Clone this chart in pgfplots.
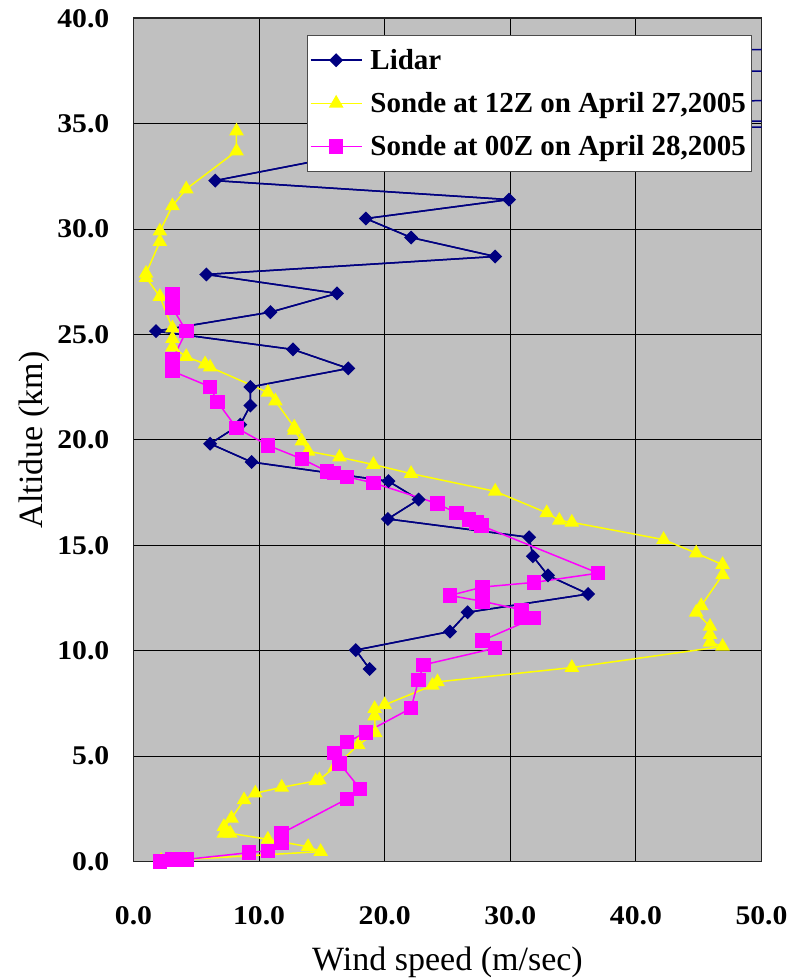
\documentclass[border=0pt]{standalone}
\usepackage{pgfplots}
\pgfplotsset{compat=1.18}
\usepackage{fontspec}
\setmainfont{Liberation Serif}
\newfontfamily\tickfont{Liberation Serif}[FakeStretch=1.1]
\definecolor{silverbg}{RGB}{192,192,192}
\definecolor{navy}{RGB}{0,0,128}
\definecolor{yel}{RGB}{255,255,0}
\definecolor{mag}{RGB}{255,0,255}
\begin{document}
\begin{tikzpicture}
\useasboundingbox (-133.5pt,-118.5pt) rectangle (658.5pt,861.5pt);
\begin{axis}[
  at={(0pt,0pt)}, anchor=south west,
  scale only axis, width=628pt, height=843.2pt,
  xmin=0, xmax=50, ymin=0, ymax=40,
  xtick={0,10,20,30,40,50}, ytick={0,5,10,15,20,25,30,35,40},
  xticklabels={0.0,10.0,20.0,30.0,40.0,50.0},
  yticklabels={0.0,5.0,10.0,15.0,20.0,25.0,30.0,35.0,40.0},
  major tick length=0pt,
  grid=major, grid style={black, line width=0.9pt},
  axis line style={black!85, line width=1.8pt},
  axis background/.style={fill=silverbg},
  tick label style={font=\tickfont\bfseries\fontsize{27}{27}\selectfont, inner sep=0pt},
  xticklabel style={anchor=base, yshift=-63pt},
  yticklabel style={anchor=east, xshift=-24pt},
  every axis x label/.style={at={(axis description cs:0.5,-0.1287)}, anchor=base, inner sep=0pt},
  every axis y label/.style={at={(axis description cs:-0.1446,0.5)}, rotate=90, anchor=base, inner sep=0pt},
  xlabel={\fontsize{34}{34}\selectfont Wind speed (m/sec)},
  ylabel={\fontsize{34}{34}\selectfont Altidue (km)},
  legend style={at={(0.2763,0.9802)}, anchor=north west, draw=black!70, line width=0.8pt, fill=white,
    font=\bfseries\fontsize{29}{29}\selectfont, inner xsep=2.5pt, inner ysep=11pt, row sep=15.5pt,
    nodes={inner sep=3pt, anchor=west},
    /tikz/every odd column/.append style={column sep=5pt}},
  legend cell align=left,
  legend image code/.code={\draw[mark repeat=2,mark phase=2,#1] plot coordinates {(0pt,0pt) (25.5pt,0pt) (51pt,0pt)};},
]
% Lidar full line (includes points beyond the right edge)
\addplot[navy, line width=1.5pt, no marks, forget plot] coordinates {
(18.8,9.13) (17.7,10.03) (25.2,10.91) (26.6,11.82) (36.2,12.69) (33.0,13.57) (31.8,14.48) (31.5,15.38)
(20.25,16.25) (22.7,17.17) (20.3,18.04) (9.4,18.95) (6.1,19.82) (8.5,20.73) (9.3,21.63) (9.3,22.51)
(17.1,23.39) (12.7,24.29) (1.8,25.16) (10.9,26.06) (16.2,26.95) (5.8,27.85) (28.8,28.7) (22.1,29.6)
(18.5,30.5) (29.9,31.4) (6.5,32.3) (16,33.4) (40,34.8) (90,35.0) (40,35.15) (45,36.0) (95,37.0)
(40,37.6) (45,38.5) (95,38.7)
};
\addplot[navy, line width=1.5pt, mark=square*, mark size=4.2pt, mark options={rotate=45, solid, fill=navy}] coordinates {
(18.8,9.13) (17.7,10.03) (25.2,10.91) (26.6,11.82) (36.2,12.69) (33.0,13.57) (31.8,14.48) (31.5,15.38)
(20.25,16.25) (22.7,17.17) (20.3,18.04) (9.4,18.95) (6.1,19.82) (8.5,20.73) (9.3,21.63) (9.3,22.51)
(17.1,23.39) (12.7,24.29) (1.8,25.16) (10.9,26.06) (16.2,26.95) (5.8,27.85) (28.8,28.7) (22.1,29.6)
(18.5,30.5) (29.9,31.4) (6.5,32.3) (16,33.4) (40,34.8) (40,35.15) (45,36.0) (40,37.6) (45,38.5)
};
\addlegendentry{Lidar}
\addplot[yel, line width=1.5pt, mark=triangle*, mark size=7pt, mark options={solid, fill=yel}] coordinates {
(8.2,34.65) (8.2,33.7) (4.2,31.9) (3.1,31.1) (2.1,29.9) (2.1,29.4) (1.0,27.9) (1.0,27.7) (2.1,26.8)
(3.1,25.3) (3.1,24.8) (3.1,24.4) (4.2,23.95) (5.7,23.6) (6.1,23.45) (10.7,22.25) (11.3,21.84)
(12.8,20.6) (12.8,20.45) (13.4,19.94) (13.9,19.46) (16.4,19.18) (19.1,18.83) (22.1,18.4) (28.8,17.56)
(32.9,16.54) (33.9,16.18) (34.9,16.09) (42.2,15.27) (44.8,14.63) (46.9,14.08) (46.9,13.6) (45.2,12.13)
(44.8,11.82) (45.9,11.15) (45.9,10.76) (45.9,10.4) (46.9,10.2) (34.9,9.2) (24.2,8.52) (23.8,8.35)
(20.0,7.43) (19.2,7.25) (19.2,6.9) (19.25,6.1) (17.9,5.53) (16.05,4.5) (14.8,3.87) (14.5,3.82)
(11.8,3.52) (9.7,3.24) (8.8,2.92) (7.8,2.05) (7.2,1.65) (7.2,1.34) (7.7,1.34) (10.7,1.05) (13.9,0.7)
(14.9,0.47) (4.2,0.1) (3.2,0.08) (2.2,0.05)
};
\addlegendentry{Sonde at 12Z on April 27,2005}
\addplot[mag, line width=1.5pt, mark=square*, mark size=6.5pt, mark options={solid, fill=mag}] coordinates {
(3.1,26.9) (3.1,26.27) (4.2,25.16) (3.1,23.81) (3.1,23.26) (6.1,22.52) (6.7,21.79) (8.2,20.57)
(10.7,19.74) (13.4,19.1) (15.4,18.51) (15.95,18.42) (17.0,18.25) (19.1,17.96) (24.2,16.98) (25.7,16.53)
(26.7,16.22) (27.3,16.09) (27.7,15.93) (37.0,13.68) (31.9,13.24) (27.8,13.02) (25.2,12.62) (27.8,12.34)
(30.9,11.94) (30.9,11.55) (31.9,11.55) (27.8,10.49) (28.8,10.12) (23.1,9.33) (22.7,8.62) (22.1,7.27)
(18.5,6.12) (17.0,5.66) (16.0,5.14) (16.4,4.66) (18.05,3.44) (17.0,2.97) (11.8,1.34) (11.8,0.87)
(10.7,0.51) (9.2,0.42) (4.2,0.1) (3.1,0.1) (2.1,0.0)
};
\addlegendentry{Sonde at 00Z on April 28,2005}
\end{axis}
\end{tikzpicture}
\end{document}
